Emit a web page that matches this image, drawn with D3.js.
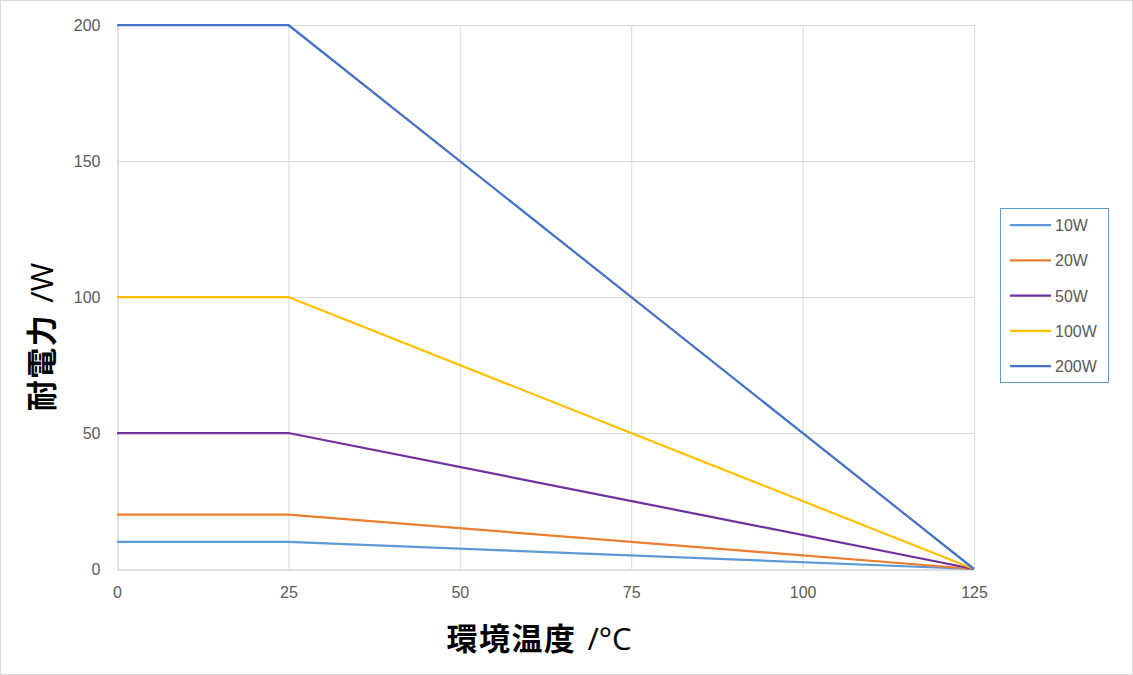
<!DOCTYPE html>
<html><head><meta charset="utf-8">
<script src="https://cdn.jsdelivr.net/npm/d3@7"></script>
<style>body{margin:0;background:#fff}svg{display:block}</style>
</head><body>
<svg id="c" width="1133" height="675"></svg>
<script>
const temps = [0, 25, 125];
const seriesNames = ["10W", "20W", "50W", "100W", "200W"];
const p10 = [10, 10, 0];
const p20 = [20, 20, 0];
const p50 = [50, 50, 0];
const p100 = [100, 100, 0];
const p200 = [200, 200, 0];
const seriesValues = [p10, p20, p50, p100, p200];
const colors = ["#5B9BD5", "#ED7D31", "#7030A0", "#FFC000", "#4472C4"];
const xTicks = [0, 25, 50, 75, 100, 125];
const yTicks = [0, 50, 100, 150, 200];
const xTitleCJK = "環境温度";
const yTitleCJK = "耐電力";
const xUnit = "/°C";
const yUnit = "/W";

const svg = d3.select("#c");
svg.append("rect").attr("x",0.5).attr("y",0.5).attr("width",1132).attr("height",674)
  .attr("fill","#fff").attr("stroke","#D9D9D9");

const x = d3.scaleLinear().domain([0,125]).range([117,974]);
const y = d3.scaleLinear().domain([0,200]).range([569,25]);
const font = "'Liberation Sans', 'Noto Sans CJK JP', sans-serif";
const cjk = "'Noto Sans CJK JP', sans-serif";

// grid
svg.append("g").selectAll("line").data(yTicks.filter(d=>d>0)).join("line")
  .attr("x1",x(0)).attr("x2",x(125)).attr("y1",d=>y(d)+0.5).attr("y2",d=>y(d)+0.5)
  .attr("stroke","#D9D9D9");
svg.append("g").selectAll("line").data(xTicks.filter(d=>d>0)).join("line")
  .attr("y1",y(0)).attr("y2",y(200)).attr("x1",d=>x(d)+0.5).attr("x2",d=>x(d)+0.5)
  .attr("stroke","#D9D9D9");

// axes
const xAxis = d3.axisBottom(x).tickValues(xTicks).tickSize(0).tickPadding(17);
const gx = svg.append("g").attr("transform",`translate(0,${y(0)+0.5})`).call(xAxis);
gx.select(".domain").attr("stroke","#BFBFBF");
gx.selectAll("text").attr("font-family",font).attr("font-size",16).attr("fill","#595959");
const yAxis = d3.axisLeft(y).tickValues(yTicks).tickSize(0).tickPadding(17);
const gy = svg.append("g").attr("transform",`translate(${x(0)+0.5},0)`).call(yAxis);
gy.select(".domain").attr("stroke","#BFBFBF");
gy.selectAll("text").attr("font-family",font).attr("font-size",16).attr("fill","#595959");

// lines
const line = d3.line().x((d,i)=>x(temps[i])).y(d=>y(d));
svg.append("g").selectAll("path").data(seriesValues).join("path")
  .attr("d",line).attr("fill","none").attr("stroke",(d,i)=>colors[i])
  .attr("stroke-width",2.25).attr("stroke-linejoin","round");

// titles
const xt = svg.append("text").attr("x",539).attr("y",650).attr("text-anchor","middle")
  .attr("font-family",cjk).attr("font-size",31).attr("fill","#000");
xt.append("tspan").attr("font-weight","bold").attr("letter-spacing",1.5).text(xTitleCJK);
xt.append("tspan").attr("font-family","'Open Sans', sans-serif").attr("dx",11).text(xUnit);
const yt = svg.append("text").attr("transform","translate(53,337) rotate(-90)").attr("text-anchor","middle")
  .attr("font-family",cjk).attr("font-size",31).attr("fill","#000");
yt.append("tspan").attr("font-weight","bold").attr("letter-spacing",1.5).text(yTitleCJK);
yt.append("tspan").attr("font-family","'Open Sans', sans-serif").attr("dx",11).text(yUnit);

// legend
const lg = svg.append("g");
lg.append("rect").attr("x",1000.5).attr("y",208.5).attr("width",108).attr("height",174)
  .attr("fill","#fff").attr("stroke","#5B9BD5");
const rows = lg.selectAll("g").data(seriesNames).join("g")
  .attr("transform",(d,i)=>`translate(0,${225+i*35.3})`);
rows.append("line").attr("x1",1010).attr("x2",1051).attr("y1",0).attr("y2",0)
  .attr("stroke",(d,i)=>colors[i]).attr("stroke-width",2.25);
rows.append("text").attr("x",1055).attr("y",6).attr("font-family",font).attr("font-size",16)
  .attr("fill","#595959").text(d=>d);
</script>
</body></html>
